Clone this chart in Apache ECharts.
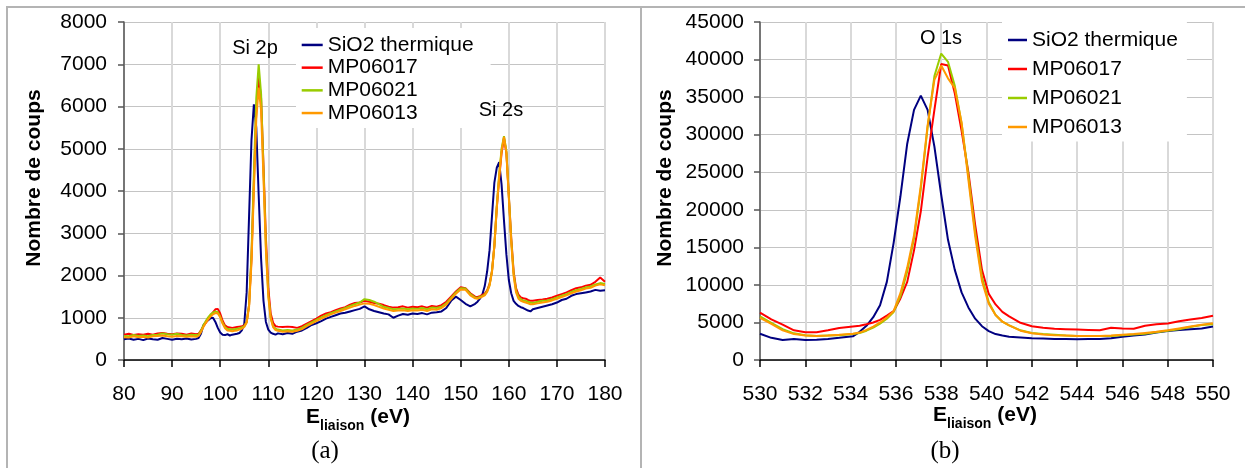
<!DOCTYPE html>
<html>
<head>
<meta charset="utf-8">
<script src="https://cdn.jsdelivr.net/npm/echarts@6/dist/echarts.min.js"></script>
<style>
html,body{margin:0;padding:0;background:#fff;}
#c{width:1245px;height:468px;}
</style>
</head>
<body>
<div id="c"></div>
<script>
// ---------- Panel (a): Si 2p / Si 2s region ----------
const energyA = [80,81,82,83,84,85,86,87,88,89,90,91,92,93,94,95,
95.5,96,96.5,97,97.5,98,98.5,99,99.5,100,100.5,101,101.5,102,102.5,103,103.5,104,104.5,105,105.5,106,106.5,107,107.5,108,108.5,109,109.5,110,110.5,111,111.5,112,
113,114,115,116,117,118,119,120,121,122,123,124,125,126,127,128,129,130,131,132,133,134,135,136,137,138,139,140,141,142,143,144,145,146,147,148,149,150,151,152,153,
153.5,154,154.5,155,155.5,156,156.5,157,157.5,158,158.5,159,159.5,160,160.5,161,161.5,162,162.5,163,163.5,164,164.5,165,
166,167,168,169,170,171,172,173,174,175,176,177,178,179,180];

const sio2A = [490,510,480,500,470,510,490,480,520,500,480,505,490,510,485,500,
520,620,820,900,940,990,1000,900,760,650,600,590,610,580,600,610,620,640,700,850,1600,3400,5200,6050,5500,3900,2400,1400,900,720,650,620,600,630,
610,640,620,670,700,760,830,870,920,980,1020,1060,1100,1120,1150,1180,1210,1270,1200,1160,1130,1100,1080,1000,1050,1090,1070,1100,1090,1110,1080,1120,1130,1150,1230,1400,1500,1420,1330,1270,1330,
1380,1450,1550,1750,2100,2600,3400,4200,4550,4680,4150,3300,2500,1900,1580,1400,1330,1280,1250,1230,1200,1170,1150,1200,
1230,1260,1290,1320,1360,1420,1450,1520,1560,1580,1600,1620,1660,1640,1650];

const mp17A = [600,620,590,610,600,620,600,630,640,620,610,630,620,600,630,610,
620,700,800,880,960,1050,1130,1200,1210,1100,930,820,780,770,760,770,780,790,800,820,900,1300,2400,4200,5900,6700,6200,4600,2900,1700,1100,880,800,790,
780,790,780,760,800,860,920,980,1050,1100,1130,1180,1220,1250,1310,1350,1360,1400,1380,1350,1330,1300,1260,1240,1250,1270,1240,1260,1250,1270,1240,1280,1260,1300,1380,1500,1620,1720,1700,1580,1500,
1490,1510,1540,1570,1650,1800,2100,2700,3600,4300,4900,5250,4900,3900,2900,2100,1700,1550,1480,1460,1450,1420,1400,1400,
1420,1430,1450,1480,1520,1560,1600,1650,1700,1720,1760,1780,1850,1950,1850];

const mp21A = [570,560,590,570,580,560,590,600,630,610,600,620,590,580,600,590,
600,690,820,920,1010,1080,1120,1150,1130,1030,880,780,740,730,720,730,740,750,770,800,900,1300,2500,4400,6200,7000,6300,4500,2700,1550,1000,800,740,720,
700,710,700,720,760,830,890,950,1010,1060,1110,1150,1190,1230,1280,1320,1360,1440,1420,1380,1320,1260,1230,1200,1210,1220,1200,1220,1210,1230,1200,1240,1230,1260,1340,1470,1600,1700,1690,1560,1480,
1470,1490,1520,1550,1630,1780,2100,2700,3650,4400,5000,5300,4950,3900,2850,2050,1650,1500,1440,1410,1400,1380,1360,1350,
1380,1400,1410,1440,1480,1520,1560,1610,1650,1680,1720,1740,1790,1820,1800];

const mp13A = [540,530,560,540,550,530,560,570,580,560,550,570,560,550,560,550,
570,660,780,880,960,1030,1080,1110,1100,1010,860,750,700,690,680,690,700,720,740,780,880,1250,2300,4000,5700,6450,5900,4300,2600,1500,980,780,710,690,
670,680,670,690,730,800,860,920,980,1030,1080,1120,1160,1200,1240,1280,1310,1340,1330,1300,1260,1220,1190,1160,1170,1180,1160,1180,1170,1190,1160,1200,1190,1230,1310,1440,1570,1670,1660,1530,1460,
1450,1470,1500,1530,1610,1760,2080,2700,3600,4350,4950,5280,4900,3850,2800,2000,1600,1450,1400,1380,1360,1340,1320,1320,
1340,1360,1380,1410,1450,1490,1530,1580,1620,1650,1690,1710,1760,1790,1770];

// ---------- Panel (b): O 1s region ----------
const energyB = [530,530.5,531,531.5,532,532.5,533,533.5,
534.1,534.4,534.7,535.0,535.3,535.6,535.9,536.2,536.5,536.8,537.1,537.4,537.7,538.0,538.3,538.6,538.9,539.2,539.5,539.8,540.1,540.4,540.7,541.0,
541.5,542,542.5,543,543.5,544,544.5,545,545.5,546,546.5,547,547.5,548,548.5,549,549.5,550];

const sio2B = [3500,2950,2650,2800,2650,2700,2800,2950,
3150,3750,4550,5700,7300,10400,15600,21800,28800,33300,35200,33300,28400,22000,16000,12000,9000,7000,5500,4500,3850,3450,3250,3100,
3000,2900,2850,2800,2800,2750,2800,2800,2900,3100,3250,3400,3650,3850,4000,4100,4200,4450];

const mp17B = [6300,5400,4700,3950,3700,3700,3950,4250,
4450,4550,4750,5000,5350,5900,6500,8200,10400,14600,19800,27000,33300,39400,39200,35500,30500,25000,18000,12000,8800,7400,6400,5800,
4950,4500,4300,4150,4100,4050,4000,3950,4300,4200,4150,4550,4750,4850,5150,5400,5600,5900];

const mp21B = [5800,4950,4100,3550,3300,3200,3250,3300,
3450,3600,3900,4300,4850,5500,6400,8500,11800,16200,22800,31000,37800,40800,39700,36500,31500,24500,17000,11000,7700,6000,5100,4600,
3950,3600,3450,3350,3250,3200,3200,3200,3200,3300,3400,3500,3700,3900,4100,4400,4650,4750];

const mp13B = [5600,4800,3950,3450,3250,3200,3250,3350,
3500,3650,4000,4450,5000,5650,6500,8900,12300,16600,23200,31200,37300,39200,37500,36200,31600,24000,16500,10500,7500,6000,5100,4600,
3900,3550,3400,3300,3250,3200,3200,3200,3250,3350,3450,3600,3750,3950,4200,4450,4700,4900];

const seriesNames = ['SiO2 thermique','MP06017','MP06021','MP06013'];
const seriesColors = ['#000080','#FF0000','#99CC00','#FF9900'];
const yTicksA = {min:0, max:8000, interval:1000};
const yTicksB = {min:0, max:45000, interval:5000};
const xTicksA = {min:80, max:180, interval:10};
const xTicksB = {min:530, max:550, interval:2};

function pairs(xs, ys){ return xs.map((x,i)=>[x, ys[i]]); }

const FONT = 'Liberation Sans, Arial, sans-serif';
const SERIF = 'Liberation Serif, Times New Roman, serif';

const chart = echarts.init(document.getElementById('c'), null, {renderer:'canvas'});

function xAxisCfg(idx, t){
  return {
    type:'value', gridIndex: idx, min:t.min, max:t.max, interval:t.interval,
    axisLine:{show:true, onZero:false, lineStyle:{color:'#000', width:1.5}},
    axisTick:{show:true, inside:false, length:7, lineStyle:{color:'#000', width:1.5}},
    axisLabel:{show:true, margin:24, color:'#000', fontSize:21, fontFamily:FONT,
      formatter:(v)=>String(v)},
    splitLine:{show:true, lineStyle:{color:'#d9d9d9', width:2}}
  };
}
function yAxisCfg(idx, t, margin){
  return {
    type:'value', gridIndex: idx, min:t.min, max:t.max, interval:t.interval,
    axisLine:{show:true, lineStyle:{color:'#555', width:1.5}},
    axisTick:{show:true, inside:false, length:6, lineStyle:{color:'#555', width:1.5}},
    axisLabel:{show:true, margin:margin, color:'#000', fontSize:21, fontFamily:FONT,
      formatter:(v)=>String(v)},
    splitLine:{show:true, lineStyle:{color:'#c4c4c4', width:1}}
  };
}

const series = [];
const dataA = [sio2A, mp17A, mp21A, mp13A];
const dataB = [sio2B, mp17B, mp21B, mp13B];
for (let i=0;i<4;i++){
  series.push({type:'line', name:seriesNames[i], xAxisIndex:0, yAxisIndex:0,
    data: pairs(energyA, dataA[i]), showSymbol:false, symbol:'none',
    lineStyle:{color:seriesColors[i], width:2}, itemStyle:{color:seriesColors[i]}, z:2+i});
}
for (let i=0;i<4;i++){
  series.push({type:'line', name:seriesNames[i], xAxisIndex:1, yAxisIndex:1,
    data: pairs(energyB, dataB[i]), showSymbol:false, symbol:'none',
    lineStyle:{color:seriesColors[i], width:2}, itemStyle:{color:seriesColors[i]}, z:2+i});
}

function legendCfg(left, top, lineH, pad, iw){
  return {
    show:true, orient:'vertical', left:left, top:top, padding:pad,
    itemWidth:iw, itemHeight:2.5, itemGap:0,
    icon:'rect',
    backgroundColor:'#ffffff',
    textStyle:{fontSize:21, fontFamily:FONT, color:'#000', lineHeight:lineH},
    data: seriesNames.map((n,i)=>({name:n, itemStyle:{color:seriesColors[i]}})),
    selectedMode:false, z:10
  };
}

function xTitle(cx, cy){
  return {
    type:'text', x:cx, y:cy, z:20,
    style:{
      text:'{e|E}{s|liaison}{e| (eV)}',
      align:'center', verticalAlign:'middle',
      rich:{
        e:{fontSize:21, fontWeight:'bold', fontFamily:FONT, lineHeight:26, verticalAlign:'top', fill:'#000'},
        s:{fontSize:14, fontWeight:'bold', fontFamily:FONT, lineHeight:14, verticalAlign:'bottom', fill:'#000'}
      }
    }
  };
}
function yTitle(cx, cy){
  return {
    type:'text', x:cx, y:cy, rotation:Math.PI/2, z:20,
    style:{text:'Nombre de coups', align:'center', verticalAlign:'middle',
      font:'bold 21px ' + FONT, fill:'#000'}
  };
}
function plainText(str, cx, cy, size, fam){
  return {type:'text', x:cx, y:cy, z:20,
    style:{text:str, align:'center', verticalAlign:'middle', font: size + 'px ' + fam, fill:'#000'}};
}

const option = {
  animation:false,
  backgroundColor:'#ffffff',
  grid:[
    {left:124, right:640, top:22, bottom:108, containLabel:false},
    {left:760, right:32, top:22, bottom:108, containLabel:false}
  ],
  xAxis:[xAxisCfg(0, xTicksA), xAxisCfg(1, xTicksB)],
  yAxis:[yAxisCfg(0, yTicksA, 17), yAxisCfg(1, yTicksB, 16)],
  legend:[
    legendCfg(296, 28, 22.7, [5.6, 17, 3.6, 5.7], 21),
    legendCfg(1002, 22, 29, [3.5, 9, 0, 6], 19)
  ],
  series: series,
  graphic:[
    {type:'line', shape:{x1:6, y1:7, x2:1245, y2:7}, style:{stroke:'#b4b4b4', lineWidth:2}, z:30},
    {type:'line', shape:{x1:7, y1:7, x2:7, y2:468}, style:{stroke:'#b4b4b4', lineWidth:2}, z:30},
    {type:'line', shape:{x1:641, y1:7, x2:641, y2:468}, style:{stroke:'#b4b4b4', lineWidth:2}, z:30},
    yTitle(34, 178),
    yTitle(665, 178),
    xTitle(358, 420),
    xTitle(985, 418),
    plainText('Si 2p', 255, 48, 20, FONT),
    plainText('Si 2s', 501, 110, 20, FONT),
    plainText('O 1s', 941, 38, 20, FONT),
    plainText('(a)', 325, 451, 25, SERIF),
    plainText('(b)', 945, 451, 25, SERIF)
  ]
};
chart.setOption(option);
</script>
</body>
</html>
